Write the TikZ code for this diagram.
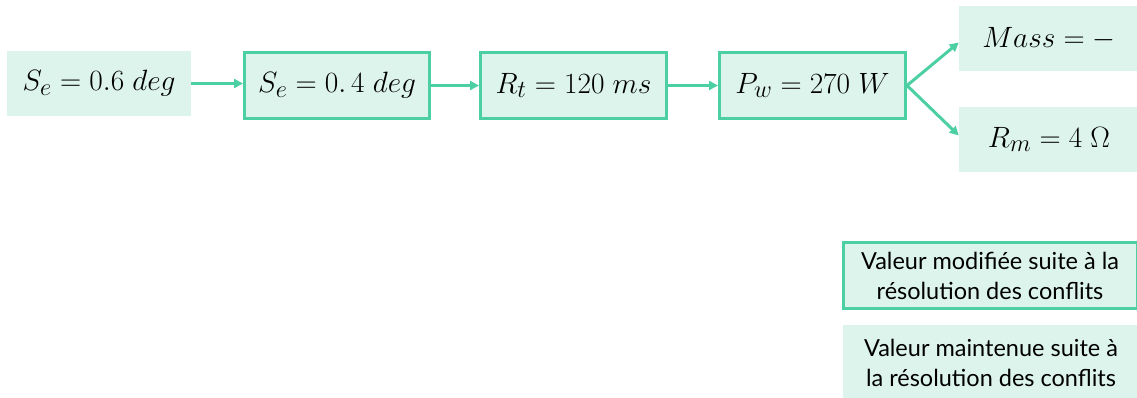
\documentclass[tikz,border=0pt]{standalone}
\usepackage{fontspec}
\setmainfont{Lato}
\usetikzlibrary{arrows.meta}
\definecolor{bord}{HTML}{4CCFA2}
\definecolor{fillc}{HTML}{DDF4EC}
\newcommand{\mbx}[1]{\scalebox{1.18}{$#1$}}
\begin{document}
\begin{tikzpicture}[x=1pt,y=-1pt,
  plain/.style={fill=fillc,draw=none,inner sep=0pt,font=\fontsize{24.88}{30}\selectfont},
  mod/.style={fill=fillc,draw=bord,line width=3pt,inner sep=0pt,font=\fontsize{24.88}{30}\selectfont},
  legtext/.style={inner sep=0pt,align=center,font=\fontsize{23.5}{30}\selectfont},
  conn/.style={draw=bord,line width=3pt,-{Triangle[length=9pt,width=9pt]}}]
\useasboundingbox (0,0) rectangle (1137,398);
\node[plain,minimum width=184pt,minimum height=65pt] (a) at (99,83.5) {\mbx{S_e = 0.6\;deg}};
\node[mod,minimum width=185pt,minimum height=66pt] (b) at (337,85.5) {\mbx{S_e = 0.\,4\;deg}};
\node[mod,minimum width=186pt,minimum height=66pt] (c) at (573.5,85.5) {\mbx{R_t = 120\;ms}};
\node[mod,minimum width=186pt,minimum height=66pt] (d) at (812.5,85.5) {\mbx{P_w = 270\;W}};
\node[plain,minimum width=180pt,minimum height=65pt] (e) at (1049,38.5) {\mbx{Mass = -}};
\node[plain,minimum width=180pt,minimum height=65pt] (f) at (1049,139.5) {\mbx{R_m = 4\;\Omega}};
\node[mod,legtext,minimum width=294pt,minimum height=66pt] (g) at (990,275.5) {Valeur modifiée suite à la\\résolution des conflits};
\node[plain,legtext,minimum width=296pt,minimum height=76pt] (h) at (991,363) {Valeur maintenue suite à\\la résolution des conflits};
\draw[conn] (a.east) -- (a.east -| b.west);
\draw[conn] (b.east) -- (c.west);
\draw[conn] (c.east) -- (d.west);
\draw[conn] (d.east) -- ([yshift=-4pt]e.west);
\draw[conn] (d.east) -- ([yshift=4pt]f.west);
\end{tikzpicture}
\end{document}
